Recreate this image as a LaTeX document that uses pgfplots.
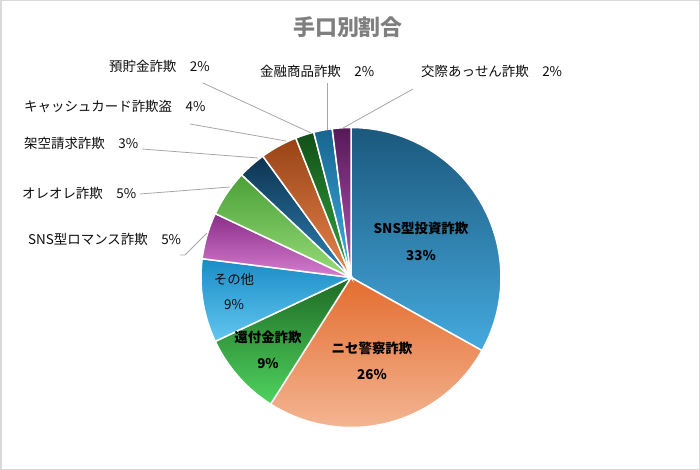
\documentclass[border=0pt]{standalone}
\usepackage{pgfplots}
\pgfplotsset{compat=1.18}
\usepackage{fontspec}
\setmainfont{Noto Sans CJK JP}
\definecolor{frame}{HTML}{D9D9D9}
\definecolor{lead}{HTML}{A6A6A6}
\definecolor{titlec}{HTML}{7F7F7F}
\definecolor{txt}{HTML}{0D0D0D}
% slice colours (top / bottom of gradient)
\definecolor{aT}{HTML}{1B587C}\definecolor{aB}{HTML}{45AADF}
\definecolor{bT}{HTML}{E46C2E}\definecolor{bB}{HTML}{F3B592}
\definecolor{cT}{HTML}{1E6A24}\definecolor{cB}{HTML}{4FD35E}
\definecolor{dT}{HTML}{1A8CC6}\definecolor{dB}{HTML}{62C6F0}
\definecolor{eT}{HTML}{8A2D88}\definecolor{eB}{HTML}{D57ED0}
\definecolor{fT}{HTML}{4AA038}\definecolor{fB}{HTML}{98DC78}
\definecolor{gT}{HTML}{0E3450}\definecolor{gB}{HTML}{2E82B6}
\definecolor{hT}{HTML}{984316}\definecolor{hB}{HTML}{E8854D}
\definecolor{iT}{HTML}{134F17}\definecolor{iB}{HTML}{32A843}
\definecolor{jT}{HTML}{17658F}\definecolor{jB}{HTML}{3EB0E5}
\definecolor{kT}{HTML}{561A58}\definecolor{kB}{HTML}{B656B5}
\newcommand{\lf}{\fontsize{13.5}{16}\selectfont}
% slice: start% end% topcolour bottomcolour  (centre 351,277.5 ; radius 150)
\newcommand{\slice}[4]{%
  \addplot[draw=white, line width=1.5pt, top color=#3, bottom color=#4,
    domain=#1:#2, samples=60, variable=\t]
    ({351+150*sin(3.6*\t)}, {277.5-150*cos(3.6*\t)}) -- (351,277.5) -- cycle;}
\begin{document}
\begin{tikzpicture}
\begin{axis}[scale only axis, width=700bp, height=470bp,
  xmin=0, xmax=700, ymin=0, ymax=470, y dir=reverse,
  hide axis, clip=false]
% values: 33 26 9 9 5 5 3 4 2 2 2 (cumulative bounds below)
\slice{0}{33.1}{aT}{aB}
\slice{33.1}{59}{bT}{bB}
\slice{59}{68}{cT}{cB}
\slice{68}{77}{dT}{dB}
\slice{77}{82}{eT}{eB}
\slice{82}{87}{fT}{fB}
\slice{87}{90}{gT}{gB}
\slice{90}{94}{hT}{hB}
\slice{94}{96}{iT}{iB}
\slice{96}{98}{jT}{jB}
\slice{98}{100}{kT}{kB}
% leader lines
\addplot[lead, line width=0.8pt] coordinates {(413,89) (343,128)};
\addplot[lead, line width=0.8pt] coordinates {(327,83) (327,130)};
\addplot[lead, line width=0.8pt] coordinates {(203,83) (311,133)};
\addplot[lead, line width=0.8pt] coordinates {(190,124) (286,141)};
\addplot[lead, line width=0.8pt] coordinates {(142,149) (258,158)};
\addplot[lead, line width=0.8pt] coordinates {(140,194) (230,187)};
\addplot[lead, line width=0.8pt] coordinates {(180,255) (185,255) (207,233)};
% frame
\draw[frame, line width=1.5bp] (0.75,0.75) rectangle (699.25,469.25);
% title
\node[font=\fontsize{22}{25}\selectfont\bfseries, text=titlec] at (348,27) {手口別割合};
% outside labels
\node[anchor=west, font=\lf, text=txt, inner sep=0pt] at (421,71) {交際あっせん詐欺\quad 2\%};
\node[anchor=west, font=\lf, text=txt, inner sep=0pt] at (260,71) {金融商品詐欺\quad 2\%};
\node[anchor=west, font=\lf, text=txt, inner sep=0pt] at (109,66) {預貯金詐欺\quad 2\%};
\node[anchor=west, font=\lf, text=txt, inner sep=0pt] at (24,106) {キャッシュカード詐欺盗\quad 4\%};
\node[anchor=west, font=\lf, text=txt, inner sep=0pt] at (24,143) {架空請求詐欺\quad 3\%};
\node[anchor=west, font=\lf, text=txt, inner sep=0pt] at (22,193) {オレオレ詐欺\quad 5\%};
\node[anchor=west, font=\lf, text=txt, inner sep=0pt] at (28,239) {SNS型ロマンス詐欺\quad 5\%};
% inside labels
\node[font=\lf\bfseries, text=black] at (421,228) {SNS型投資詐欺};
\node[font=\lf\bfseries, text=black] at (421,255) {33\%};
\node[font=\lf\bfseries, text=black] at (372,348) {ニセ警察詐欺};
\node[font=\lf\bfseries, text=black] at (372,374) {26\%};
\node[font=\lf\bfseries, text=black] at (268,337) {還付金詐欺};
\node[font=\lf\bfseries, text=black] at (268,363) {9\%};
\node[font=\lf, text=txt] at (234,279) {その他};
\node[font=\lf, text=txt] at (234,305) {9\%};
\end{axis}
\end{tikzpicture}
\end{document}
